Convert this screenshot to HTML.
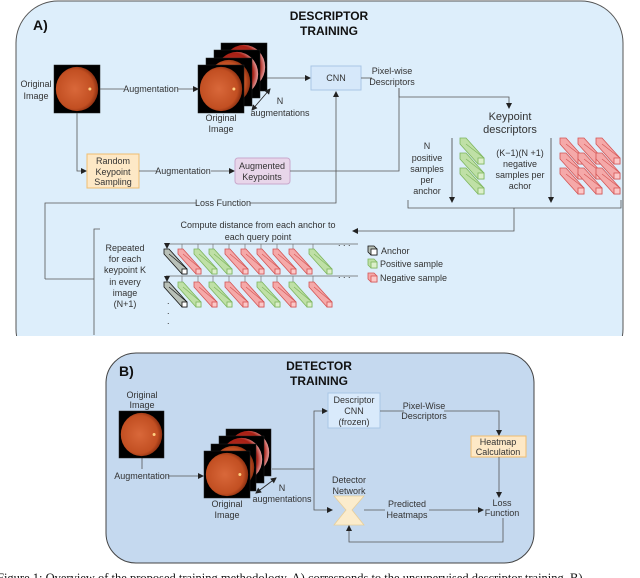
<!DOCTYPE html>
<html><head><meta charset="utf-8"><style>
html,body{margin:0;padding:0;background:#fff;width:640px;height:578px;overflow:hidden}
svg{display:block}
text{font-family:"Liberation Sans",sans-serif;font-size:9px;fill:#333}
.b{font-weight:bold;fill:#111}
</style></head><body>
<svg id="s" width="640" height="578" viewBox="0 0 640 578" xmlns="http://www.w3.org/2000/svg">
<defs>
<radialGradient id="fg" cx="45%" cy="50%" r="55%"><stop offset="0" stop-color="#d9683a"/><stop offset="0.8" stop-color="#c24f22"/><stop offset="1" stop-color="#8a2e10"/></radialGradient>
<radialGradient id="fr" cx="40%" cy="50%" r="60%"><stop offset="0" stop-color="#c0392b"/><stop offset="0.8" stop-color="#a82015"/><stop offset="1" stop-color="#e8a0a0"/></radialGradient>
<marker id="ar" markerWidth="6" markerHeight="6" refX="5" refY="3" orient="auto" markerUnits="userSpaceOnUse"><path d="M0,0 L6,3 L0,6 z" fill="#222"/></marker>
<marker id="as" markerWidth="6" markerHeight="6" refX="1" refY="3" orient="auto" markerUnits="userSpaceOnUse"><path d="M6,0 L0,3 L6,6 z" fill="#222"/></marker>
<clipPath id="cpA"><rect x="0" y="0" width="640" height="336"/></clipPath>
</defs>
<!-- Panel A -->
<rect x="16" y="1" width="607" height="370" rx="42" fill="#ddeefb" stroke="#555" stroke-width="1" clip-path="url(#cpA)"/>
<text x="33" y="30" class="b" style="font-size:14px">A)</text>
<text x="329" y="20" class="b" text-anchor="middle" style="font-size:12px">DESCRIPTOR</text>
<text x="329" y="35" class="b" text-anchor="middle" style="font-size:12px">TRAINING</text>
<g id="fundA"></g>
<text x="36" y="87" text-anchor="middle">Original</text><text x="36" y="99" text-anchor="middle">Image</text>
<line x1="100" y1="89" x2="198" y2="89" stroke="#555" stroke-width="0.8" marker-end="url(#ar)"/>
<rect x="124" y="83" width="54" height="11" fill="#ddeefb"/><text x="151" y="92" text-anchor="middle">Augmentation</text>
<text x="221" y="121" text-anchor="middle">Original</text><text x="221" y="132" text-anchor="middle">Image</text>
<text x="280" y="104" text-anchor="middle">N</text><text x="280" y="116" text-anchor="middle">augmentations</text>
<line x1="252" y1="110" x2="270" y2="89" stroke="#222" stroke-width="0.8" marker-start="url(#as)" marker-end="url(#ar)"/>
<line x1="267" y1="78" x2="310" y2="78" stroke="#555" stroke-width="0.8" marker-end="url(#ar)"/>
<rect x="311" y="66" width="50" height="24" fill="#d6e8fa" stroke="#a9c6e6"/><text x="336" y="81" text-anchor="middle">CNN</text>
<line x1="361" y1="78" x2="372" y2="78" stroke="#555" stroke-width="0.8"/>
<text x="392" y="74" text-anchor="middle">Pixel-wise</text><text x="392" y="85" text-anchor="middle">Descriptors</text>
<polyline points="399,88 399,97 509,97 509,108" fill="none" stroke="#555" stroke-width="0.8" marker-end="url(#ar)"/>
<text x="510" y="120" text-anchor="middle" style="font-size:11px">Keypoint</text><text x="510" y="133" text-anchor="middle" style="font-size:11px">descriptors</text>
<g text-anchor="middle"><text x="427" y="149">N</text><text x="427" y="161">positive</text><text x="427" y="172">samples</text><text x="427" y="183">per</text><text x="427" y="194">anchor</text>
<text x="520" y="156">(K−1)(N +1)</text><text x="520" y="167">negative</text><text x="520" y="178">samples per</text><text x="520" y="189">achor</text></g>
<line x1="452" y1="138" x2="452" y2="202" stroke="#444" stroke-width="0.8" marker-end="url(#ar)"/>
<line x1="551" y1="138" x2="551" y2="202" stroke="#444" stroke-width="0.8" marker-end="url(#ar)"/>
<polyline points="408,200 408,208 621,208 621,200" fill="none" stroke="#555" stroke-width="0.8"/>
<polyline points="514,208 514,231 353,231" fill="none" stroke="#555" stroke-width="0.8" marker-end="url(#ar)"/>
<polyline points="77,113 77,171 86,171" fill="none" stroke="#555" stroke-width="0.8" marker-end="url(#ar)"/>
<rect x="87" y="154" width="52" height="34" fill="#fde8c6" stroke="#f0bd70"/>
<g text-anchor="middle"><text x="113" y="164">Random</text><text x="113" y="175">Keypoint</text><text x="113" y="185">Sampling</text></g>
<line x1="139" y1="171" x2="234" y2="171" stroke="#555" stroke-width="0.8" marker-end="url(#ar)"/>
<rect x="157" y="165" width="54" height="11" fill="#ddeefb"/><text x="183" y="174" text-anchor="middle">Augmentation</text>
<rect x="235" y="158" width="55" height="26" rx="3" fill="#e8d6ea" stroke="#c9a8cc"/>
<g text-anchor="middle"><text x="262" y="169">Augmented</text><text x="262" y="180">Keypoints</text></g>
<polyline points="290,171 399,171 399,88" fill="none" stroke="#555" stroke-width="0.8"/>
<polyline points="45,279 45,203 336,203 336,92" fill="none" stroke="#555" stroke-width="0.8" marker-end="url(#ar)"/>
<rect x="196" y="198" width="54" height="11" fill="#ddeefb"/><text x="223" y="206" text-anchor="middle">Loss Function</text>
<polyline points="45,279 94,279" fill="none" stroke="#555" stroke-width="0.8"/>
<polyline points="100,229 94,229 94,335" fill="none" stroke="#555" stroke-width="0.8"/>
<g text-anchor="middle"><text x="258" y="228">Compute distance from each anchor to</text><text x="258" y="240">each query point</text>
<text x="125" y="251">Repeated</text><text x="125" y="262">for each</text><text x="125" y="273">keypoint K</text><text x="125" y="285">in every</text><text x="125" y="296">image</text><text x="125" y="307">(N+1)</text></g>
<line x1="166" y1="244" x2="358" y2="244" stroke="#666" stroke-width="0.8"/>
<line x1="166" y1="276" x2="358" y2="276" stroke="#666" stroke-width="0.8"/>
<text x="338" y="246">. . .</text><text x="338" y="278">. . .</text>
<text x="167" y="304">.</text><text x="167" y="314">.</text><text x="167" y="324">.</text>
<text x="381" y="254">Anchor</text><text x="380" y="267">Positive sample</text><text x="380" y="281">Negative sample</text>
<g id="bars"></g>
<!-- Panel B -->
<rect x="106" y="353" width="428" height="210" rx="30" fill="#c5d9ef" stroke="#444" stroke-width="1"/>
<text x="119" y="376" class="b" style="font-size:14px">B)</text>
<text x="319" y="370" class="b" text-anchor="middle" style="font-size:12px">DETECTOR</text>
<text x="319" y="385" class="b" text-anchor="middle" style="font-size:12px">TRAINING</text>
<g text-anchor="middle"><text x="142" y="398">Original</text><text x="142" y="408">Image</text></g>
<line x1="142" y1="458" x2="142" y2="469" stroke="#555" stroke-width="0.8"/>
<line x1="168" y1="476" x2="203" y2="476" stroke="#555" stroke-width="0.8" marker-end="url(#ar)"/>
<text x="142" y="479" text-anchor="middle">Augmentation</text>
<g text-anchor="middle"><text x="227" y="507">Original</text><text x="227" y="518">Image</text>
<text x="282" y="491">N</text><text x="282" y="502">augmentations</text></g>
<line x1="256" y1="493" x2="276" y2="478" stroke="#222" stroke-width="0.8" marker-start="url(#as)" marker-end="url(#ar)"/>
<polyline points="272,469 314,469" fill="none" stroke="#555" stroke-width="0.8"/>
<polyline points="314,469 314,411 327,411" fill="none" stroke="#555" stroke-width="0.8" marker-end="url(#ar)"/>
<polyline points="314,469 314,510 332,510" fill="none" stroke="#555" stroke-width="0.8" marker-end="url(#ar)"/>
<rect x="328" y="393" width="52" height="35" fill="#d9eafb" stroke="#a9c6e6"/>
<g text-anchor="middle"><text x="354" y="403">Descriptor</text><text x="354" y="414">CNN</text><text x="354" y="425">(frozen)</text></g>
<polyline points="380,411 499,411 499,435" fill="none" stroke="#555" stroke-width="0.8" marker-end="url(#ar)"/>
<rect x="404" y="402" width="40" height="18" fill="#c5d9ef"/>
<g text-anchor="middle"><text x="424" y="409">Pixel-Wise</text><text x="424" y="419">Descriptors</text></g>
<rect x="471" y="436" width="55" height="21" fill="#fde8c6" stroke="#f0bd70"/>
<g text-anchor="middle"><text x="498" y="445">Heatmap</text><text x="498" y="455">Calculation</text></g>
<line x1="499" y1="457" x2="499" y2="497" stroke="#555" stroke-width="0.8" marker-end="url(#ar)"/>
<g text-anchor="middle"><text x="502" y="506">Loss</text><text x="502" y="516">Function</text>
<text x="349" y="483">Detector</text><text x="349" y="494">Network</text></g>
<polygon points="334,496 364,496 352,510 364,525 334,525 346,510" fill="#fbeccc" stroke="#e8cf9a" stroke-width="0.8"/>
<line x1="364" y1="510" x2="483" y2="510" stroke="#555" stroke-width="0.8" marker-end="url(#ar)"/>
<rect x="385" y="501" width="44" height="20" fill="#c5d9ef"/>
<g text-anchor="middle"><text x="407" y="507">Predicted</text><text x="407" y="518">Heatmaps</text></g>
<polyline points="503,518 503,542 349,542 349,526" fill="none" stroke="#555" stroke-width="0.8" marker-end="url(#ar)"/>
<g id="fundB"></g>
<text x="-3" y="582" style="font-family:'Liberation Serif',serif;font-size:12.5px;fill:#111">Figure 1: Overview of the proposed training methodology. A) corresponds to the unsupervised descriptor training. B)</text>
</svg>
<script>
const NS="http://www.w3.org/2000/svg";
function el(p,t,a){const e=document.createElementNS(NS,t);for(const k in a)e.setAttribute(k,a[k]);p.appendChild(e);return e;}
function fundus(p,x,y,w,h,red){el(p,"rect",{x:x,y:y,width:w,height:h,fill:"#000",stroke:"#222","stroke-width":0.5});
 el(p,"ellipse",{cx:x+w/2,cy:y+h/2,rx:w*0.46,ry:h*0.46,fill:red?"url(#fr)":"url(#fg)"});
 if(!red)el(p,"circle",{cx:x+w*0.78,cy:y+h*0.5,r:1.5,fill:"#ffd080"});}
const fa=document.getElementById("fundA");
fundus(fa,54,65,46,48);
fundus(fa,221,43,46,48,1);fundus(fa,214,50,46,48,1);fundus(fa,206,58,46,48,0);fundus(fa,198,65,46,48);
const fb=document.getElementById("fundB");
fundus(fb,119,411,45,47);
fundus(fb,226,429,45,47,1);fundus(fb,219,436,45,47,1);fundus(fb,211,444,45,47,0);fundus(fb,204,451,46,47);
const C={r:["#f5a9a9","#d45454"],g:["#bfe0a6","#7cb55c"],a:["#b8c0b8","#111"]};
const bars=document.getElementById("bars");
function bar(x,y,c,dx,dy,s){const [f,st]=C[c];const ex=x+dx,ey=y+dy;
 el(bars,"polygon",{points:`${x},${y} ${x+s},${y} ${ex+s},${ey} ${ex+s},${ey+s} ${ex},${ey+s} ${x},${y+s}`,fill:f,stroke:st,"stroke-width":0.8});
 el(bars,"line",{x1:x+s,y1:y+s,x2:ex+s,y2:ey,stroke:st,"stroke-width":0.6});
 el(bars,"rect",{x:ex,y:ey,width:s,height:s,fill:c=="a"?"#fff":"#fcc8c8",stroke:st,"stroke-width":0.8});
 if(c=="g")bars.lastChild.setAttribute("fill","#dcefcb");}
function row(y,seq,lineY){bar(164,y,"a",18,20,5);
 el(bars,"line",{x1:167,y1:lineY,x2:167,y2:y-1,stroke:"#222","stroke-width":0.8,"marker-end":"url(#ar)"});
 const xs=[182,198,213,229,245,261,277,293,313];
 seq.split("").forEach((c,i)=>{el(bars,"line",{x1:xs[i],y1:lineY,x2:xs[i],y2:y+1,stroke:"#777","stroke-width":0.7});bar(xs[i]-4,y,c,18,20,5);});}
row(249,"rggrrrrrg",244);row(282,"grgrrgrgr",276);
for(let i=0;i<3;i++)bar(460,138+i*15,"g",18,20,6);
for(let i=0;i<3;i++)for(let j=0;j<3;j++)bar(560+j*18,138+i*15,"r",18,20,6);
bar(368,246,"a",3,3,6);bar(368,259,"g",3,3,6);bar(368,273,"r",3,3,6);
</script>
</body></html>
